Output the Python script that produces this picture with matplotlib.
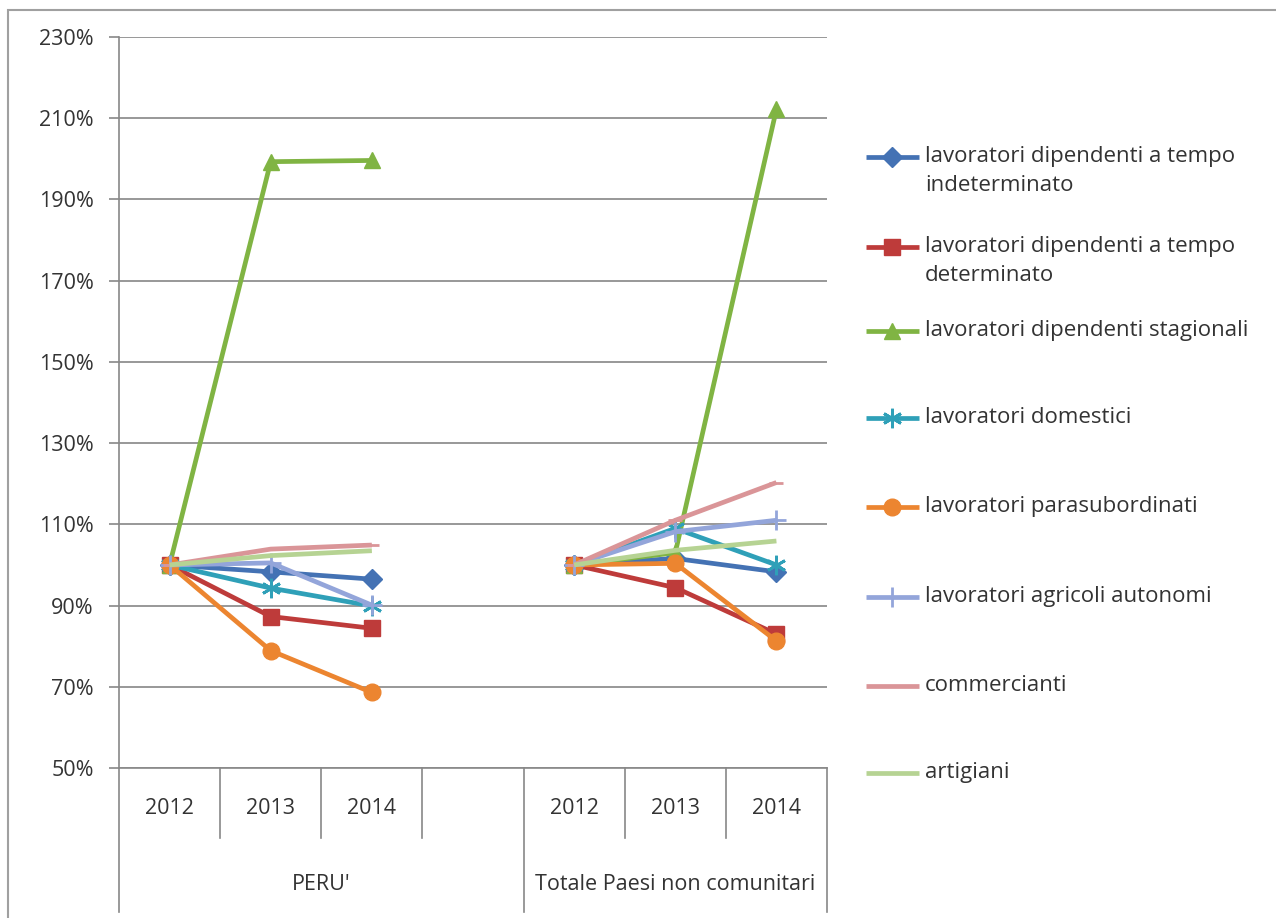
import matplotlib
matplotlib.use("Agg")
import matplotlib.pyplot as plt
from matplotlib.lines import Line2D
from matplotlib.patches import Rectangle
import numpy as np

plt.rcParams['font.family'] = ['Open Sans', 'DejaVu Sans']

# ---- data ----
years = ["2012", "2013", "2014"]
groups = ["PERU'", "Totale Paesi non comunitari"]

series_names = [
    "lavoratori dipendenti a tempo\nindeterminato",
    "lavoratori dipendenti a tempo\ndeterminato",
    "lavoratori dipendenti stagionali",
    "lavoratori domestici",
    "lavoratori parasubordinati",
    "lavoratori agricoli autonomi",
    "commercianti",
    "artigiani",
]

peru_indeterminato = [100, 98.3, 96.5]
peru_determinato = [100, 87.3, 84.4]
peru_stagionali = [100, 199.3, 199.6]
peru_domestici = [100, 94.3, 89.9]
peru_parasubordinati = [100, 78.9, 68.6]
peru_agricoli = [100, 100.5, 90.1]
peru_commercianti = [100, 103.9, 104.9]
peru_artigiani = [100, 102.3, 103.5]

tot_indeterminato = [100, 101.6, 98.3]
tot_determinato = [100, 94.4, 83.0]
tot_stagionali = [100, 103.0, 212.2]
tot_domestici = [100, 109.0, 100.0]
tot_parasubordinati = [100, 100.4, 81.3]
tot_agricoli = [100, 108.2, 111.0]
tot_commercianti = [100, 111.0, 120.3]
tot_artigiani = [100, 103.6, 105.9]

peru_values = [peru_indeterminato, peru_determinato, peru_stagionali, peru_domestici,
               peru_parasubordinati, peru_agricoli, peru_commercianti, peru_artigiani]
tot_values = [tot_indeterminato, tot_determinato, tot_stagionali, tot_domestici,
              tot_parasubordinati, tot_agricoli, tot_commercianti, tot_artigiani]

colors = ["#4472B4", "#BE3B3A", "#80B443", "#2FA0B8", "#EC8530", "#93A5DA", "#DA9598", "#B6D393"]
markers = ["D", "s", "^", (6, 2, 0), "o", "+", "_", None]
msizes = [10, 11, 12, 14, 12, 14, 10, 0]
thin = [False, False, False, True, False, True, True, False]

TXT = "#333333"
FS = 15.5
LFS = 16

# ---- figure ----
W, H = 1276, 918
fig = plt.figure(figsize=(W / 100, H / 100), dpi=100)
fig.patch.set_facecolor("white")

# outer chart border
fig.add_artist(Rectangle((8 / W, -0.01), (W + 20) / W, (H - 10) / H + 0.01,
                         transform=fig.transFigure, fill=False,
                         edgecolor="#A0A0A0", linewidth=1.5))

x0, x1 = 119, 827
y0, y1 = 37, 768
ax = fig.add_axes([x0 / W, 1 - y1 / H, (x1 - x0) / W, (y1 - y0) / H])

ncat = 7
peru_x = np.arange(3) + 0.5
tot_x = np.arange(4, 7) + 0.5

for i in range(len(series_names)):
    for xs, vals in ((peru_x, peru_values[i]), (tot_x, tot_values[i])):
        mk = markers[i]
        ax.plot(xs, vals, color=colors[i], linewidth=3.4, marker=mk,
                markersize=msizes[i], markeredgewidth=2 if thin[i] else 1,
                markeredgecolor=colors[i], markerfacecolor=colors[i],
                solid_capstyle="butt", zorder=3)

ax.set_xlim(0, ncat)
ax.set_ylim(50, 230)
yt = np.arange(50, 231, 20)
ax.set_yticks(yt)
ax.set_yticklabels([f"{v}%" for v in yt], fontsize=FS, color=TXT)
ax.tick_params(axis="y", length=7, width=1.2, color="#888888", pad=11)
ax.set_xticks([])
ax.grid(axis="y", color="#868686", linewidth=1.2)
ax.set_axisbelow(True)
for s in ("top", "right"):
    ax.spines[s].set_visible(False)
for s in ("left", "bottom"):
    ax.spines[s].set_color("#888888")
    ax.spines[s].set_linewidth(1.2)

# multi-level category axis
trans = ax.get_xaxis_transform()
axh = (y1 - y0)
def fy(py):
    return -(py - y1) / axh

for s in range(0, ncat + 1):
    ybot = fy(912) if s in (0, 4, 7) else fy(838)
    ax.add_artist(Line2D([s, s], [0, ybot], transform=trans, color="#888888",
                         linewidth=1.2, clip_on=False))
for xs in (peru_x, tot_x):
    for xv, lab in zip(xs, years):
        ax.text(xv, fy(809), lab, transform=trans, ha="center", va="center",
                fontsize=FS, color=TXT)
ax.text(2.0, fy(884), groups[0], transform=trans, ha="center", va="center",
        fontsize=FS, color=TXT)
ax.text(5.5, fy(884), groups[1], transform=trans, ha="center", va="center",
        fontsize=FS, color=TXT)

# legend (drawn like Excel: handle aligned with first text line)
leg_y = [157, 247, 331, 418, 507, 597, 686, 773]
for i, name in enumerate(series_names):
    yy = 1 - leg_y[i] / H
    fig.add_artist(Line2D([866 / W, 919 / W], [yy, yy], transform=fig.transFigure,
                          color=colors[i], linewidth=3.4, solid_capstyle="butt"))
    if markers[i] is not None:
        fig.add_artist(Line2D([892 / W], [yy], transform=fig.transFigure,
                              color=colors[i], marker=markers[i],
                              markersize=msizes[i], markerfacecolor=colors[i],
                              markeredgecolor=colors[i],
                              markeredgewidth=2 if thin[i] else 1,
                              linestyle="none"))
    fig.text(925 / W, yy + 11 / H, name, ha="left", va="top", fontsize=LFS,
             color=TXT, linespacing=1.5)

fig.savefig("out.png", dpi=100, facecolor="white")
